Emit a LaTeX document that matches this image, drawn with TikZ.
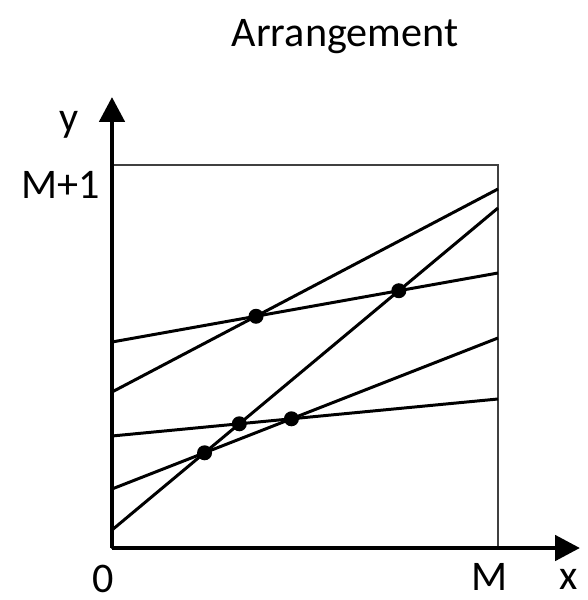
\documentclass[tikz,border=0pt]{standalone}
\usepackage{fontspec}
\setmainfont{Carlito}
\usepackage{tikz}
\usetikzlibrary{arrows.meta,calc}
\tikzset{
    % axes with big filled heads
    axis/.style={
        line width=2.8pt,
        -{Triangle[width=0.5cm,length=0.5cm]}
    },
    % thin frame of the region
    frame/.style={
        draw=black!75,
        line width=0.8pt
    },
    % the lines of the arrangement
    arrline/.style={
        line width=1.7pt
    },
    % intersection points
    vertex/.style={
        circle,
        fill=black,
        inner sep=0pt,
        minimum size=0.3cm
    },
    label text/.style={
        font=\fontsize{24}{28}\selectfont,
        inner sep=0pt
    }
}
\begin{document}
\begin{tikzpicture}
        \useasboundingbox (-2.24,-1.04) rectangle (9.52,10.96);

        % Region
        \coordinate (origin) at (0,0);
        \coordinate (corner) at (7.72,7.66);
        \draw[frame] (origin) rectangle (corner);

        % Line end points
        \coordinate (a1) at (0,4.12);    \coordinate (a2) at (7.72,5.50);
        \coordinate (b1) at (0,3.12);    \coordinate (b2) at (7.72,7.18);
        \coordinate (c1) at (0,0.36);    \coordinate (c2) at (7.72,6.80);
        \coordinate (d1) at (0,1.18);    \coordinate (d2) at (7.72,4.20);
        \coordinate (e1) at (0,2.24);    \coordinate (e2) at (7.72,2.98);

        % Lines
        \foreach \l in {a,b,c,d,e}
            \draw[arrline] (\l1) -- (\l2);

        % Axes
        \coordinate (ytip) at (0,9.02);
        \coordinate (xtip) at (9.36,0);
        \draw[axis] (origin) -- (ytip);
        \draw[axis] (origin) -- (xtip);

        % Vertices
        \node[vertex] (ab) at (intersection of a1--a2 and b1--b2) {};
        \node[vertex] (ac) at (intersection of a1--a2 and c1--c2) {};
        \node[vertex] (ce) at (intersection of c1--c2 and e1--e2) {};
        \node[vertex] (de) at (intersection of d1--d2 and e1--e2) {};
        \node[vertex] (cd) at (intersection of c1--c2 and d1--d2) {};

        % Labels
        \node[label text] (title) at (4.66,10.22) {Arrangement};
        \node[label text] (ylab) at (-0.86,8.46) {y};
        \node[label text] (ymax) at (-1.02,7.26) {M+1};
        \node[label text] (zero) at (-0.18,-0.62) {0};
        \node[label text] (xmax) at (7.56,-0.58) {M};
        \node[label text] (xlab) at (9.14,-0.62) {x};
    \end{tikzpicture}
\end{document}
